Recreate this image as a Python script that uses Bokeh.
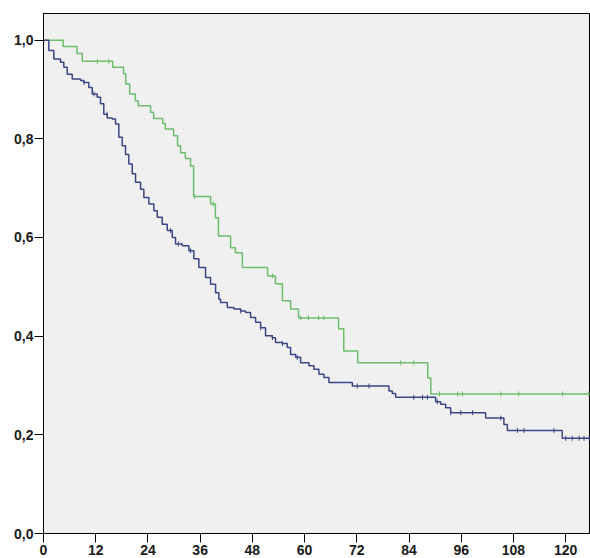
import numpy as np
from bokeh.plotting import figure
from bokeh.models import FixedTicker, Range1d
from bokeh.embed import file_html
from bokeh.resources import INLINE

# ---- data ----
x_ticks = [0, 12, 24, 36, 48, 60, 72, 84, 96, 108, 120]
y_ticks = [0.0, 0.2, 0.4, 0.6, 0.8, 1.0]
y_tick_labels = ["0,0", "0,2", "0,4", "0,6", "0,8", "1,0"]

green_time = [0, 4.5, 7.7, 8.9, 15.9, 18.4, 18.9, 19.8, 21.1, 21.8, 24.6, 25.3, 27.4, 28.0,
              29.9, 30.8, 31.5, 32.6, 33.8, 34.5, 38.4, 39.5, 40.2, 43.0, 44.1, 45.7, 51.5,
              53.3, 54.9, 56.8, 58.6, 67.8, 69.0, 72.2, 88.3, 89.0, 125.5]
green_surv = [1.0, 0.987, 0.973, 0.957, 0.945, 0.932, 0.911, 0.891, 0.877, 0.867, 0.854, 0.841,
              0.831, 0.820, 0.806, 0.786, 0.772, 0.760, 0.745, 0.683, 0.668, 0.640, 0.603, 0.579,
              0.569, 0.539, 0.522, 0.506, 0.472, 0.455, 0.437, 0.415, 0.370, 0.346, 0.315, 0.283,
              0.283]
green_censor = [12.4, 15.0, 34.7, 39.0, 52.6, 59.1, 60.9, 63.2, 64.4, 82.1, 85.1, 91.0, 95.2,
                96.3, 105.1, 109.2, 119.3, 125.3]

blue_time = [0, 1.22, 2.37, 3.91, 4.67, 5.45, 6.60, 8.51, 9.26, 10.41, 11.20, 12.34, 13.10,
             13.86, 14.64, 15.79, 16.55, 17.31, 18.09, 18.85, 19.61, 20.39, 21.15, 22.30, 23.06,
             24.21, 25.36, 26.14, 27.29, 28.44, 29.59, 30.34, 31.89, 33.40, 34.55, 35.70, 37.24,
             38.39, 39.54, 40.30, 40.69, 42.23, 43.75, 45.29, 46.44, 47.59, 48.74, 49.89, 51.03,
             52.57, 53.33, 54.87, 56.02, 56.78, 57.93, 59.08, 60.99, 62.14, 63.29, 64.44, 65.59,
             70.97, 79.38, 80.16, 80.92, 90.11, 91.26, 92.41, 93.56, 101.6, 105.8, 106.6, 119.2,
             125.5]
blue_surv = [1.0, 0.979, 0.962, 0.955, 0.945, 0.931, 0.921, 0.918, 0.914, 0.904, 0.891, 0.884,
             0.871, 0.850, 0.842, 0.840, 0.830, 0.803, 0.786, 0.768, 0.749, 0.729, 0.712, 0.698,
             0.681, 0.668, 0.654, 0.641, 0.627, 0.614, 0.600, 0.587, 0.583, 0.573, 0.557, 0.539,
             0.519, 0.505, 0.488, 0.475, 0.468, 0.458, 0.455, 0.451, 0.448, 0.438, 0.428, 0.417,
             0.401, 0.397, 0.387, 0.385, 0.377, 0.363, 0.357, 0.346, 0.340, 0.333, 0.323, 0.316,
             0.306, 0.299, 0.289, 0.284, 0.276, 0.267, 0.262, 0.255, 0.245, 0.234, 0.221, 0.209,
             0.193, 0.193]
blue_censor = [9.3, 11.6, 14.6, 29.2, 31.0, 33.8, 45.3, 49.9, 52.6, 54.9, 58.3, 72.1, 74.8,
               85.1, 87.1, 88.2, 90.5, 93.6, 95.9, 98.6, 105.1, 108.9, 110.4, 117.3, 120.0,
               121.5, 123.1, 124.2, 125.4]

GREEN = "#6cbd6c"
BLUE = "#3a4685"


def surv_at(times, surv, t):
    idx = np.searchsorted(np.array(times), np.array(t), side="right") - 1
    return list(np.array(surv)[idx])


p = figure(width=590, height=558, output_backend="svg", toolbar_location=None,
           x_range=Range1d(0, 125.7), y_range=Range1d(0, 1.054),
           min_border_left=43, min_border_right=0, min_border_top=13, min_border_bottom=25)

p.background_fill_color = "#f0f0f0"
p.border_fill_color = "white"
p.outline_line_color = "black"
p.outline_line_width = 1
p.grid.visible = False

for ax in (p.xaxis[0], p.yaxis[0]):
    ax.axis_line_color = "black"
    ax.major_tick_line_color = "black"
    ax.major_tick_out = 9
    ax.major_tick_in = 0
    ax.minor_tick_out = 0
    ax.minor_tick_in = 0
    ax.major_label_text_font = "Liberation Sans"
    ax.major_label_text_font_style = "bold"
    ax.major_label_text_font_size = "14px"
    ax.major_label_text_color = "#1a1a1a"

p.xaxis.ticker = FixedTicker(ticks=x_ticks)
p.xaxis.major_label_standoff = 2
p.yaxis.ticker = FixedTicker(ticks=y_ticks)
p.yaxis.major_label_overrides = {t: l for t, l in zip(y_ticks, y_tick_labels)}
p.yaxis.major_label_standoff = 1

p.step(green_time, green_surv, mode="after", line_color=GREEN, line_width=1.5)
p.step(blue_time, blue_surv, mode="after", line_color=BLUE, line_width=1.5)

p.scatter(green_censor, surv_at(green_time, green_surv, green_censor), marker="dash",
          angle=np.pi / 2, size=5, line_color=GREEN, line_width=1)
p.scatter(blue_censor, surv_at(blue_time, blue_surv, blue_censor), marker="dash",
          angle=np.pi / 2, size=5, line_color=BLUE, line_width=1)

open("out.html", "w").write(file_html(p, INLINE))
